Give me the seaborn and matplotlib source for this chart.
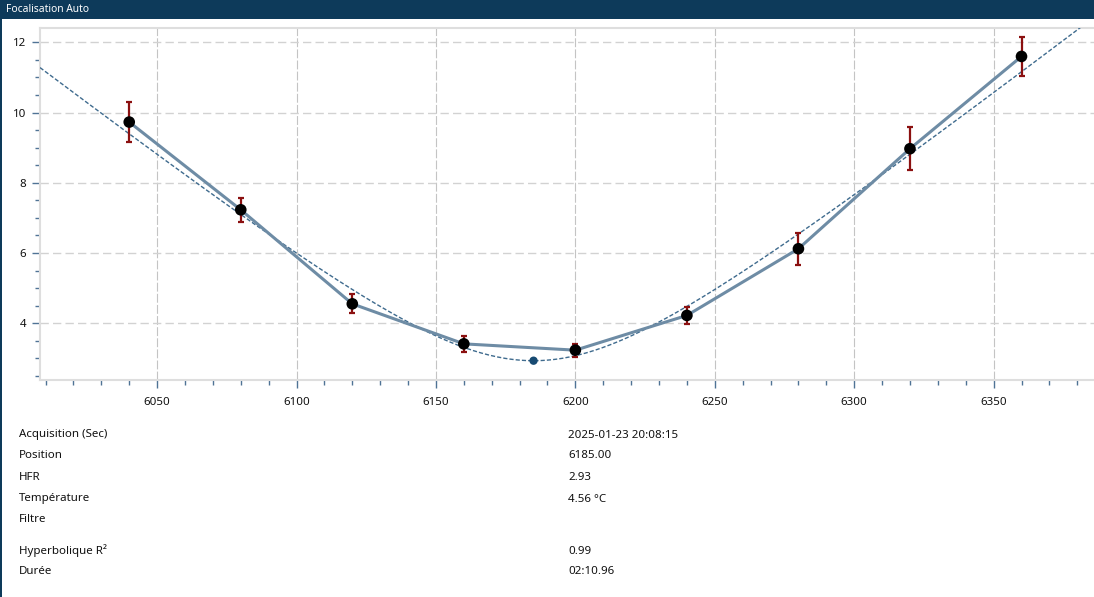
import numpy as np
import pandas as pd
import matplotlib
matplotlib.use("Agg")
import matplotlib.pyplot as plt
from matplotlib.patches import Rectangle
from matplotlib.ticker import MultipleLocator
import seaborn as sns

# ---- data ----
positions = [6040, 6080, 6120, 6160, 6200, 6240, 6280, 6320, 6360]
hfr_values = [9.73, 7.23, 4.55, 3.41, 3.23, 4.22, 6.12, 8.97, 11.60]
hfr_errors = [0.58, 0.35, 0.27, 0.22, 0.19, 0.25, 0.46, 0.61, 0.56]

best_position = 6185.0
best_hfr = 2.93
hyperbola_a = 47.6  # width parameter of the fitted hyperbola
x_range = [6008, 6386]
y_range = [2.38, 12.41]

info_labels = ["Acquisition (Sec)", "Position", "HFR", "Température", "Filtre",
               "Hyperbolique R²", "Durée"]
info_values = ["2025-01-23 20:08:15", "6185.00", "2.93", "4.56 °C", "",
               "0.99", "02:10.96"]
title = "Focalisation Auto"

# ---- styling ----
sns.set_style("white")
plt.rcParams['font.family'] = ['Noto Sans', 'DejaVu Sans']

W, H = 1094, 597
fig = plt.figure(figsize=(W / 100, H / 100), dpi=100)
fig.patch.set_facecolor("white")

# title bar + left border
fig.add_artist(Rectangle((0, 1 - 19 / H), 1, 19 / H, transform=fig.transFigure,
                         facecolor="#0d3a5a", edgecolor="none"))
fig.add_artist(Rectangle((0, 0), 2 / W, 1, transform=fig.transFigure,
                         facecolor="#0d3a5a", edgecolor="none"))
fig.text(6 / W, 1 - 10 / H, title, color="white", fontsize=7.4,
         va="center", ha="left")

ax_l, ax_r, ax_t, ax_b = 40, 1094, 28, 380
ax = fig.add_axes([ax_l / W, 1 - ax_b / H, (ax_r - ax_l) / W, (ax_b - ax_t) / H])

df = pd.DataFrame({"pos": positions, "hfr": hfr_values, "err": hfr_errors})

# fitted hyperbola (from displayed fit parameters)
fx = np.linspace(x_range[0], x_range[1], 400)
fy = best_hfr * np.sqrt(1 + ((fx - best_position) / hyperbola_a) ** 2)
fit_df = pd.DataFrame({"pos": fx, "hfr": fy})

sns.lineplot(data=fit_df, x="pos", y="hfr", ax=ax, color="#3f6b8e",
             linewidth=1.0, linestyle=(0, (3, 1.5)), zorder=3)
sns.lineplot(data=df, x="pos", y="hfr", ax=ax, color="#6e8ca5",
             linewidth=2.2, zorder=4)
ax.errorbar(df["pos"], df["hfr"], yerr=df["err"], fmt="none", ecolor="#8b1010",
            elinewidth=1.6, capsize=2.5, capthick=1.6, zorder=5)
sns.scatterplot(data=df, x="pos", y="hfr", ax=ax, color="black", s=70,
                edgecolor="none", zorder=6)
ax.scatter([best_position], [best_hfr], color="#174a72", s=36, zorder=7,
           edgecolor="none")

ax.set_xlim(*x_range)
ax.set_ylim(*y_range)
ax.xaxis.set_major_locator(MultipleLocator(50))
ax.xaxis.set_minor_locator(MultipleLocator(10))
ax.yaxis.set_major_locator(MultipleLocator(2))
ax.yaxis.set_minor_locator(MultipleLocator(0.5))
ax.set_xlabel("")
ax.set_ylabel("")

ax.grid(True, which="major", axis="y", color="#d2d2d2", linestyle=(0, (6, 3)),
        linewidth=1.0)
ax.grid(True, which="major", axis="x", color="#c4c4c4", linestyle=(0, (8, 2)),
        linewidth=0.8)
ax.set_axisbelow(True)

ax.spines["right"].set_visible(False)
for name in ["top", "left", "bottom"]:
    ax.spines[name].set_color("#dedede")
    ax.spines[name].set_linewidth(1.5)

ax.tick_params(axis="both", which="both", direction="out", color="#4f7395",
               labelcolor="#111111", labelsize=8.3, width=1.0)
ax.tick_params(axis="both", which="major", length=6, pad=4)
ax.tick_params(axis="both", which="minor", length=3.5)
ax.tick_params(axis="x", which="major", pad=6)
ax.tick_params(left=True, bottom=True, which="both")

# info table
label_x = 19 / W
value_x = 568 / W
rows_y = [435, 456, 477, 499, 520, 551, 571]
for lab, val, yy in zip(info_labels, info_values, rows_y):
    fig.text(label_x, 1 - yy / H, lab, fontsize=8.3, va="center", ha="left",
             color="#111111")
    if val:
        fig.text(value_x, 1 - yy / H, val, fontsize=8.3, va="center", ha="left",
                 color="#111111")

fig.savefig("out.png", dpi=100, facecolor=fig.get_facecolor())
